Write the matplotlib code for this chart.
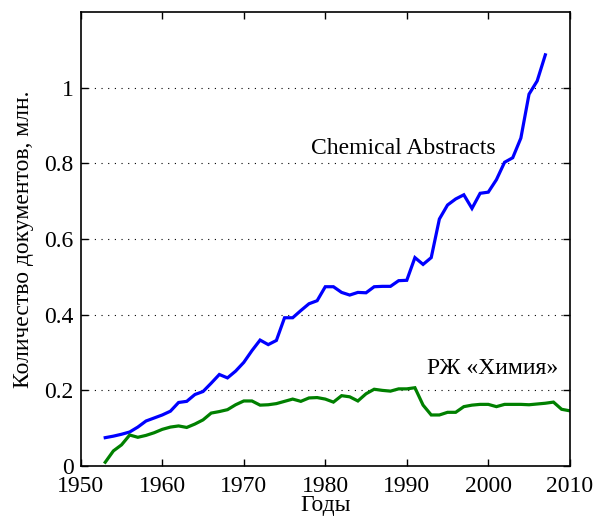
import numpy as np
import matplotlib
matplotlib.use("Agg")
import matplotlib.pyplot as plt

plt.rcParams['font.family'] = ['Liberation Serif', 'DejaVu Serif']

years_ca = list(range(1953, 2008))
chem_abstracts = [0.075, 0.079, 0.084, 0.090, 0.103, 0.119, 0.127, 0.135, 0.145, 0.168,
                  0.171, 0.189, 0.197, 0.219, 0.242, 0.233, 0.251, 0.274, 0.305, 0.333,
                  0.321, 0.332, 0.392, 0.392, 0.411, 0.429, 0.437, 0.474, 0.474, 0.459,
                  0.452, 0.459, 0.458, 0.474, 0.475, 0.475, 0.490, 0.491, 0.551, 0.533,
                  0.551, 0.653, 0.690, 0.706, 0.717, 0.681, 0.721, 0.724, 0.757, 0.803,
                  0.815, 0.867, 0.983, 1.018, 1.087]

years_rzh = list(range(1953, 2011))
rzh_chem = [0.010, 0.040, 0.056, 0.082, 0.076, 0.081, 0.088, 0.097, 0.103, 0.106,
            0.102, 0.111, 0.122, 0.140, 0.144, 0.149, 0.162, 0.172, 0.172, 0.161,
            0.162, 0.165, 0.171, 0.177, 0.171, 0.180, 0.181, 0.177, 0.169, 0.186,
            0.183, 0.172, 0.191, 0.203, 0.200, 0.198, 0.204, 0.204, 0.207, 0.161,
            0.135, 0.135, 0.142, 0.142, 0.157, 0.161, 0.163, 0.163, 0.157, 0.163,
            0.163, 0.163, 0.162, 0.164, 0.166, 0.169, 0.150, 0.146]

x_ticks = [1950, 1960, 1970, 1980, 1990, 2000, 2010]
y_ticks = [0, 0.2, 0.4, 0.6, 0.8, 1]
y_tick_labels = ['0', '0.2', '0.4', '0.6', '0.8', '1']

fig = plt.figure(figsize=(6.12, 5.26), dpi=100)
ax = fig.add_axes([0.132, 0.114, 0.799, 0.863])

ax.plot(years_ca, chem_abstracts, color=(0, 0, 1), lw=2.3, solid_joinstyle='miter')
ax.plot(years_rzh, rzh_chem, color=(0, 0.5, 0), lw=2.3, solid_joinstyle='miter')

ax.set_xlim(1950, 2010)
ax.set_ylim(0, 1.2)
ax.set_xticks(x_ticks)
ax.set_yticks(y_ticks)
ax.set_yticklabels(y_tick_labels)
ax.yaxis.grid(True, linestyle=(0, (1, 5)), color='black', lw=0.8)
ax.tick_params(direction='in', top=True, right=True, length=5, width=1,
               labelsize=17)
ax.tick_params(axis='x', pad=7)
ax.tick_params(axis='y', pad=5)
for s in ax.spines.values():
    s.set_linewidth(1.2)

ax.text(1989.6, 0.839, 'Chemical Abstracts', fontsize=17, ha='center', va='center')
ax.text(2000.5, 0.259, 'РЖ «Химия»', fontsize=17, ha='center', va='center')

ax.set_xlabel('Годы', fontsize=17, labelpad=-1)
ax.set_ylabel('Количество документов, млн.', fontsize=17, labelpad=6)
ax.yaxis.set_label_coords(-0.095, 0.5)

fig.savefig('out.png', dpi=100)
